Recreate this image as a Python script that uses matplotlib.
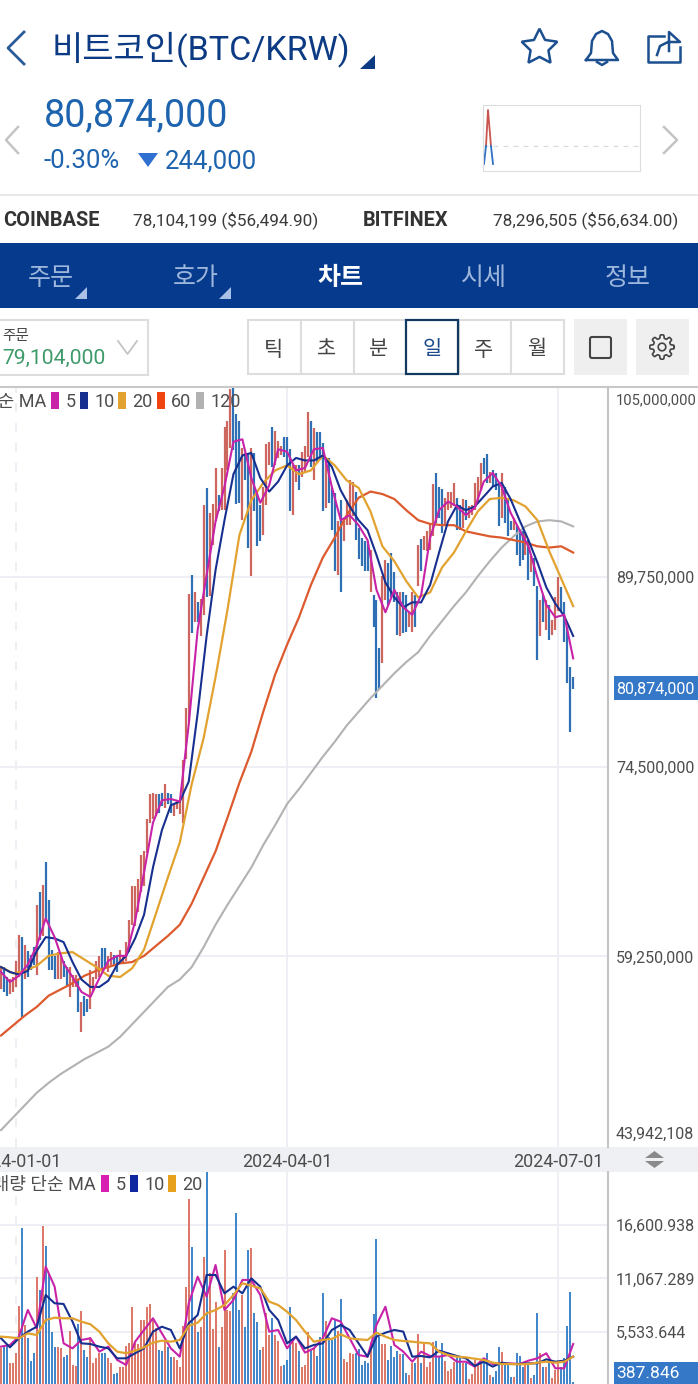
import matplotlib
matplotlib.use("Agg")
import matplotlib.pyplot as plt
import numpy as np
from matplotlib.patches import Rectangle, Polygon, Circle, FancyBboxPatch

plt.rcParams["font.family"] = ["Roboto", "Noto Sans CJK KR", "DejaVu Sans"]

W, H = 698, 1384

# daily bars, million KRW, r = up day, b = down day
highs = [58.4, 58.4, 57.6, 57.4, 57.6, 58.9, 61.0, 60.8, 60.2, 59.7,
         59.4, 60.0, 63.4, 64.4, 65.0, 66.8, 63.8, 59.8, 59.3, 59.6,
         59.3, 58.9, 58.4, 58.4, 57.8, 57.8, 57.4, 55.6, 56.1, 55.8,
         58.2, 57.6, 58.9, 59.3, 59.9, 59.9, 59.3, 59.6, 59.4, 59.3,
         59.8, 59.4, 60.4, 62.2, 64.9, 64.9, 65.5, 67.4, 67.7, 70.3,
         72.3, 72.4, 72.3, 72.3, 72.4, 73.1, 72.4, 72.3, 71.6, 71.7,
         71.7, 75.0, 79.2, 88.4, 89.9, 88.5, 87.7, 88.0, 95.5, 96.9,
         94.9, 95.6, 98.5, 96.3, 98.5, 101.8, 102.3, 104.8, 104.9, 102.8,
         102.3, 100.1, 99.7, 99.7, 100.1, 99.7, 96.5, 95.5, 97.0, 100.4,
         100.6, 101.8, 101.5, 100.7, 100.3, 101.0, 101.0, 100.0, 98.7, 98.7,
         98.7, 99.8, 100.3, 103.0, 102.3, 101.7, 101.4, 101.4, 100.5, 99.4,
         99.3, 96.9, 96.5, 94.2, 95.9, 94.2, 95.9, 97.5, 97.4, 96.6,
         93.7, 92.9, 92.6, 92.6, 91.9, 88.3, 87.9, 84.0, 89.8, 91.1,
         90.9, 91.7, 90.1, 88.5, 88.5, 88.5, 88.3, 86.9, 88.5, 88.3,
         92.3, 92.8, 93.0, 93.4, 94.1, 97.2, 98.1, 97.0, 96.8, 96.1,
         96.6, 96.6, 97.3, 96.1, 95.5, 96.0, 95.9, 95.4, 95.5, 97.3,
         97.8, 98.9, 99.3, 99.6, 98.2, 98.3, 98.1, 97.1, 98.1, 97.0,
         95.9, 94.2, 94.5, 93.8, 93.5, 93.4, 93.3, 92.7, 91.4, 91.3,
         89.0, 87.9, 88.3, 87.9, 87.5, 86.3, 88.1, 89.7, 88.9, 87.7,
         85.7, 82.5, 81.7]
lows = [56.6, 56.4, 56.1, 56.2, 56.4, 56.8, 57.6, 54.4, 57.4, 57.6,
        58.2, 58.6, 57.8, 60.6, 60.9, 62.2, 58.2, 58.2, 57.4, 57.4,
        57.4, 57.6, 56.8, 56.0, 56.8, 56.8, 54.8, 53.2, 54.5, 54.8,
        55.0, 56.4, 57.4, 57.6, 58.2, 58.4, 58.0, 58.6, 58.6, 58.0,
        58.8, 58.8, 58.9, 59.6, 61.8, 61.7, 62.8, 64.4, 64.9, 67.6,
        70.0, 70.3, 70.5, 70.8, 71.3, 71.2, 71.5, 70.8, 70.5, 71.1,
        70.7, 70.0, 75.1, 78.1, 85.2, 86.1, 86.1, 85.0, 86.7, 88.1,
        88.2, 92.3, 94.2, 95.0, 95.1, 95.1, 98.3, 100.1, 99.9, 95.6,
        95.7, 94.3, 97.5, 92.1, 89.8, 95.0, 92.2, 92.6, 93.1, 95.5,
        98.7, 98.6, 98.7, 99.3, 99.5, 99.4, 98.7, 95.0, 94.7, 97.4,
        96.7, 97.8, 98.2, 99.4, 98.6, 97.5, 99.0, 99.1, 95.0, 95.3,
        95.7, 93.5, 90.2, 89.9, 88.5, 92.6, 93.9, 93.9, 94.6, 92.7,
        91.2, 90.6, 90.2, 90.2, 88.5, 85.7, 80.0, 80.7, 82.8, 87.9,
        87.5, 88.1, 87.7, 85.1, 85.0, 85.2, 85.3, 85.7, 85.3, 85.7,
        89.0, 90.2, 91.9, 91.8, 91.9, 93.0, 94.1, 94.5, 93.3, 93.8,
        95.1, 95.3, 95.4, 93.5, 93.5, 93.7, 94.3, 94.5, 94.7, 95.1,
        95.8, 96.7, 98.0, 97.3, 97.3, 97.0, 96.7, 93.8, 94.5, 94.1,
        93.0, 93.5, 93.5, 91.5, 90.6, 91.1, 91.5, 89.5, 90.1, 89.0,
        83.1, 85.0, 86.1, 85.5, 84.7, 85.1, 85.5, 87.0, 86.9, 84.5,
        81.2, 77.3, 80.7]
directions = ("rbbrrrrbrb" "bbrbrbbbbr" "rbbrrrbrbb" "rrrrbbrrbb" "rrrrrrrrrr"
              "rrrbbrbbrr" "rrrrbrbrrb" "rrrbrrrrbb" "brbbrbbbrr" "rbrrrbbbrr"
              "brrrbrbbbr" "bbbrbrrrrb" "bbbbrbbbrr" "bbbbrbbrrb" "rbrrrrbbbr"
              "rrrbbrbrrr" "rrbbrbbbrb" "bbrbbbrbrb" "brbrbrrrbb" "bbb")
volumes = [3840, 4190, 4190, 2360, 2360, 3330, 8260, 16320, 6260, 4880,
           2530, 3330, 11190, 9880, 16490, 14430, 11500, 5570, 3950, 4020,
           3840, 2980, 3150, 5670, 2120, 2020, 6360, 7700, 3670, 2910,
           5050, 2290, 2810, 3330, 3330, 3330, 2810, 2290, 1190, 1330,
           1950, 1950, 4090, 4360, 8080, 4360, 4290, 6740, 6770, 8080,
           8390, 6770, 5910, 3670, 3600, 4710, 4020, 2980, 2980, 2640,
           1950, 6190, 10220, 19250, 14290, 7120, 5570, 6080, 13320, 22110,
           11600, 5810, 8670, 4020, 6020, 14010, 7810, 7740, 9530, 17870,
           7810, 9360, 6080, 14010, 14190, 7460, 6600, 3670, 3950, 7530,
           5220, 6950, 5220, 4600, 2020, 2120, 2640, 8080, 4530, 4360,
           3570, 1880, 2120, 5570, 3670, 3840, 3050, 5050, 9530, 6670,
           5050, 4710, 6770, 5670, 8950, 2710, 2470, 3330, 3260, 3330,
           3740, 2120, 2530, 2290, 4530, 7390, 15120, 5050, 4290, 4290,
           2640, 4090, 2980, 3520, 3260, 3220, 1330, 1090, 2290, 2360,
           5330, 2360, 4530, 1880, 2470, 4530, 4640, 2980, 4430, 2570,
           1500, 1670, 2470, 3150, 3050, 2360, 2290, 670, 1160, 2640,
           2120, 2360, 2290, 3330, 1090, 850, 1500, 3950, 3430, 2360,
           2220, 910, 850, 3330, 3090, 1950, 2470, 2220, 740, 1090,
           7460, 3330, 1950, 1950, 2290, 740, 1600, 2290, 1950, 2810,
           6150, 9700, 400]

# moving averages, every 3rd or 4th day
days_3 = list(range(0, 193, 3))
days_4 = list(range(0, 193, 4))
ma5 = [58.0, 57.2, 57.7, 58.6, 60.1, 62.3, 60.8, 58.7, 57.6, 56.4,
       56.0, 57.5, 58.9, 59.3, 59.3, 62.1, 66.0, 70.0, 71.8, 71.9,
       71.7, 77.9, 85.5, 89.9, 94.2, 97.0, 100.6, 100.8, 97.7, 95.7,
       97.1, 100.0, 99.8, 98.3, 98.5, 100.0, 100.1, 97.0, 94.3, 94.7,
       93.9, 92.7, 88.7, 86.9, 88.7, 87.3, 86.7, 88.3, 92.9, 95.1,
       95.8, 95.4, 94.7, 95.3, 97.4, 98.1, 97.0, 94.9, 93.5, 92.2,
       89.7, 87.5, 86.5, 86.7, 83.2]
ma10 = [58.4, 58.0, 57.8, 58.1, 59.7, 60.8, 60.7, 60.4, 58.8, 57.4,
        56.8, 56.8, 57.3, 58.6, 59.3, 60.7, 62.6, 66.4, 69.4, 71.4,
        71.7, 73.3, 78.8, 85.0, 90.3, 94.3, 98.0, 99.5, 99.7, 97.7,
        96.6, 97.4, 98.7, 99.3, 99.1, 99.1, 99.5, 98.6, 96.7, 95.4,
        94.3, 93.5, 91.5, 89.3, 88.1, 87.3, 87.7, 87.7, 89.1, 91.7,
        94.2, 95.5, 95.1, 95.4, 96.2, 97.0, 97.3, 96.0, 94.3, 92.7,
        90.9, 88.9, 87.6, 86.6, 85.0]
ma20 = [58.4, 57.9, 58.1, 58.5, 59.3, 59.5, 59.6, 59.0, 58.4, 57.7,
        57.6, 58.3, 59.8, 62.7, 65.6, 68.4, 73.1, 76.8, 81.7, 87.1,
        93.1, 95.9, 97.3, 98.3, 98.7, 98.0, 98.3, 99.5, 98.7, 97.5,
        96.9, 95.0, 92.2, 91.0, 89.4, 88.1, 88.5, 90.5, 91.7, 93.4,
        95.0, 96.0, 96.1, 95.9, 95.4, 94.3, 91.8, 89.6, 87.4]
ma60 = [52.9, 53.7, 54.5, 55.2, 56.1, 56.6, 57.1, 57.7, 58.1, 58.4,
        58.7, 58.8, 59.3, 60.1, 60.9, 61.8, 63.5, 65.6, 67.7, 70.4,
        73.2, 75.7, 78.9, 81.9, 84.3, 86.5, 89.1, 91.3, 92.9, 94.7,
        96.1, 96.6, 96.4, 96.0, 95.1, 94.3, 94.0, 93.9, 93.9, 93.4,
        93.2, 93.0, 92.9, 92.7, 92.5, 92.2, 92.1, 92.2, 91.7]
ma120 = [45.3, 46.3, 47.3, 48.3, 49.1, 49.8, 50.4, 51.0, 51.5, 52.0,
         52.8, 53.8, 54.8, 55.8, 56.8, 57.4, 58.4, 60.0, 61.8, 63.4,
         64.9, 66.4, 68.2, 69.8, 71.5, 72.7, 74.0, 75.3, 76.5, 77.8,
         78.9, 80.0, 81.0, 82.0, 82.9, 83.7, 85.0, 86.2, 87.4, 88.5,
         89.8, 91.0, 92.1, 93.0, 93.8, 94.2, 94.3, 94.2, 93.8]
vol_ma5 = [4020, 4190, 5050, 7810, 5910, 12290, 10220, 4360, 3840, 4710,
           4880, 3500, 4020, 2640, 2120, 4530, 5740, 6950, 5390, 3840,
           2980, 8500, 11250, 9190, 12460, 7810, 8840, 10910, 10910, 9360,
           5570, 5740, 3840, 5050, 3400, 3840, 4880, 6950, 6600, 4880,
           3150, 2980, 6260, 8150, 4190, 3500, 2460, 3500, 3050, 2980,
           3150, 2460, 2460, 1950, 2810, 2220, 2290, 2290, 2220, 2570,
           2810, 3330, 1780, 1780, 4290]
vol_ma10 = [4880, 3950, 4880, 5570, 6080, 9360, 8500, 8430, 6600, 4360,
            4290, 4020, 3840, 2810, 2810, 3330, 3840, 5570, 6080, 5740,
            3840, 6430, 7290, 11430, 11430, 9530, 10220, 9530, 11080, 10220,
            7810, 6770, 4360, 5050, 3840, 4190, 4360, 5740, 6260, 5740,
            4360, 2980, 5050, 5460, 5740, 5570, 2980, 3050, 2910, 3600,
            3330, 3050, 2810, 2020, 2460, 1950, 2360, 2220, 2220, 2290,
            2290, 2710, 2460, 2570, 2980]
vol_ma20 = [5050, 4980, 4880, 5390, 5220, 6770, 7010, 6950, 6950, 6600,
            6330, 5570, 4360, 3500, 3330, 3600, 3950, 4430, 4640, 4530,
            4710, 6150, 6500, 7460, 7810, 8320, 9360, 10570, 10320, 10050,
            8670, 8320, 7630, 6770, 5570, 4530, 4710, 4810, 5290, 4880,
            4770, 4710, 5460, 5050, 4710, 4600, 4530, 4430, 4360, 3500,
            3150, 2980, 2910, 2770, 2640, 2360, 2220, 2220, 2190, 2220,
            2360, 2460, 2360, 2460, 2980]

price_ticks = [59.25, 74.5, 89.75]
price_labels = ["59,250,000", "74,500,000", "89,750,000"]
vol_ticks = [5533.644, 11067.289, 16600.938]
vol_labels = ["5,533.644", "11,067.289", "16,600.938"]
date_ticks = [5, 96, 187]
date_labels = ["2024-01-01", "2024-04-01", "2024-07-01"]
last_price = 80.874
# mini chart, change against yesterday's close
spark_up_x, spark_up_y = [3, 5, 8], [0, 36, 0]
spark_down1_x, spark_down1_y = [1, 3], [-18, 0]
spark_down2_x, spark_down2_y = [8, 10], [0, -18]

RED = "#cc665e"
BLUE = "#2f70b4"
VOL_RED = "#dd7666"
VOL_BLUE = "#3d84c8"
MAGENTA = "#c722a8"
NAVY = "#17308f"
GOLD = "#e2a22f"
ORANGE = "#dd5a2e"
GRAY = "#b2b2b2"
GRID = "#eceef3"
TEXT = "#4d4d4d"
DARK_BLUE = "#0c3b84"


def px_axes(left, top, right, bottom, zorder):
    return fig.add_axes([left / W, 1 - bottom / H, (right - left) / W, (bottom - top) / H], zorder=zorder)


def style_chart_axes(ax):
    ax.set_xlim(-1 / 2.98, 607 / 2.98)
    for side in ["left", "top", "bottom"]:
        ax.spines[side].set_visible(False)
    ax.spines["right"].set_color("#c4c4c4")
    ax.spines["right"].set_linewidth(1.5)
    ax.yaxis.tick_right()
    ax.tick_params(length=0, labelcolor=TEXT)
    ax.set_xticks(date_ticks)
    ax.grid(True, color=GRID, linewidth=1.3)
    ax.set_axisbelow(True)
    ax.get_xgridlines()[0].set_linestyle((0, (5, 6)))


fig = plt.figure(figsize=(W / 100, H / 100), dpi=100, facecolor="white")

# background band behind the date labels
bg = px_axes(0, 0, W, H, 0)
bg.set_xlim(0, W)
bg.set_ylim(H, 0)
bg.axis("off")
bg.add_patch(Rectangle((0, 1147), W, 25, color="#eef0f3", lw=0))

# price panel
ax = px_axes(0, 387, 608, 1147, 2)
ax.patch.set_alpha(0)
style_chart_axes(ax)
ax.set_ylim(43.942108, 105)
days = np.arange(len(highs))
bar_colors = [RED if d == "r" else BLUE for d in directions]
ax.vlines(days, lows, highs, colors=bar_colors, linewidth=1.6, zorder=2)
ax.plot(days_4, ma120, color=GRAY, lw=1.5, zorder=3)
ax.plot(days_4, ma60, color=ORANGE, lw=1.6, zorder=3)
ax.plot(days_4, ma20, color=GOLD, lw=1.6, zorder=3)
ax.plot(days_3, ma10, color=NAVY, lw=1.5, zorder=4)
ax.plot(days_3, ma5, color=MAGENTA, lw=1.5, zorder=4)
ax.set_yticks(price_ticks)
ax.set_yticklabels(price_labels, fontsize=11.5)
ax.tick_params(axis="y", pad=5.8)
ax.set_xticklabels(date_labels, fontsize=12.9)
ax.tick_params(axis="x", pad=4.5)
ax.annotate("105,000,000", xy=(1, 105), xycoords=("axes fraction", "data"), xytext=(5.8, -9.4),
            textcoords="offset points", va="center", fontsize=10.6, color=TEXT, annotation_clip=False)
ax.annotate("43,942,108", xy=(1, 43.942108), xycoords=("axes fraction", "data"), xytext=(5.8, 9.4),
            textcoords="offset points", va="center", fontsize=11.5, color=TEXT, annotation_clip=False)

# volume panel
vax = px_axes(0, 1172, 608, 1384, 2)
vax.patch.set_alpha(0)
style_chart_axes(vax)
vax.set_ylim(155, 22076)
vol_colors = [VOL_RED if d == "r" else VOL_BLUE for d in directions]
vax.vlines(days, 0, volumes, colors=vol_colors, linewidth=1.4, zorder=2)
vax.plot(days_3, vol_ma5, color=MAGENTA, lw=1.5, zorder=3)
vax.plot(days_3, vol_ma10, color=NAVY, lw=1.5, zorder=4)
vax.plot(days_3, vol_ma20, color=GOLD, lw=1.6, zorder=5)
vax.set_yticks(vol_ticks)
vax.set_yticklabels(vol_labels, fontsize=11.5)
vax.tick_params(axis="y", pad=5.8)
vax.set_xticklabels([])

# mini chart
spark = px_axes(483, 105, 640, 171, 3)
spark.set_xlim(0, 157)
spark.set_ylim(-25, 41)
spark.set_xticks([])
spark.set_yticks([])
for s in spark.spines.values():
    s.set_color("#dddddd")
    s.set_linewidth(0.8)
spark.axhline(0, color="#dcdcdc", lw=0.9, ls=(0, (4, 4)))
spark.plot(spark_up_x, spark_up_y, color="#c8564e", lw=1.3)
spark.plot(spark_down1_x, spark_down1_y, color="#2f70c4", lw=1.3)
spark.plot(spark_down2_x, spark_down2_y, color="#2f70c4", lw=1.3)

# app chrome, in pixel coordinates
ui = px_axes(0, 0, W, H, 5)
ui.set_xlim(0, W)
ui.set_ylim(H, 0)
ui.axis("off")

ui.plot([24, 8, 24], [32, 48, 64], color="#2a5a98", lw=2.0)
ui.text(52, 49, "비트코인(BTC/KRW)", fontsize=24.5, color=DARK_BLUE, va="center", ha="left")
ui.add_patch(Polygon([[375, 55], [375, 69], [360, 69]], color=DARK_BLUE, lw=0))

# star, bell, share
ui.plot([539], [47], marker=(5, 1), ms=27, mfc="none", mec="#1c4f8f", mew=1.8)
bell_x = [586, 591, 592, 596, 602, 608, 612, 613, 618, 586]
bell_y = [60, 53, 41, 34, 31, 34, 41, 53, 60, 60]
ui.plot(bell_x, bell_y, color="#1c4f8f", lw=1.8)
ui.plot([597, 602, 607], [62, 65, 62], color="#1c4f8f", lw=1.8)
ui.plot([664, 648, 648, 680, 680], [36, 36, 62, 62, 47], color="#1c4f8f", lw=1.8)
ui.plot([657, 660, 668, 680, 669, 669], [55, 46, 42, 42, 32, 51], color="#1c4f8f", lw=1.8)

ui.plot([18, 6, 18], [127, 140, 153], color="#c4c4c4", lw=1.8)
ui.plot([664, 677, 664], [127, 140, 153], color="#c4c4c4", lw=1.8)
ui.text(44, 116, "80,874,000", fontsize=27.2, color="#1d63ae", va="center", ha="left")
ui.text(44, 161, "-0.30%", fontsize=18.5, color="#1d63ae", va="center", ha="left")
ui.add_patch(Polygon([[138, 153], [158, 153], [148, 167]], color="#2f6fd0", lw=0))
ui.text(165, 161, "244,000", fontsize=18.5, color="#1d63ae", va="center", ha="left")

ui.plot([0, W], [195, 195], color="#e8e8e8", lw=1.5)
ui.text(3, 220, "COINBASE", fontsize=14.4, fontweight="bold", color="#333333", va="center")
ui.text(133, 220, "78,104,199 ($56,494.90)", fontsize=12.3, color="#3a3a3a", va="center")
ui.text(363, 220, "BITFINEX", fontsize=14.4, fontweight="bold", color="#333333", va="center")
ui.text(493, 220, "78,296,505 ($56,634.00)", fontsize=12.3, color="#3a3a3a", va="center")

# nav bar
ui.add_patch(Rectangle((0, 243), W, 65, color="#063a8c", lw=0))
for label, x in zip(["주문", "호가", "시세", "정보"], [51, 196, 484, 628]):
    ui.text(x, 278, label, fontsize=18, color="#9db6dc", ha="center", va="center")
ui.text(340, 278, "차트", fontsize=18, fontweight="bold", color="white", ha="center", va="center")
ui.add_patch(Polygon([[87, 287], [87, 299], [75, 299]], color="#a9c1e6", lw=0))
ui.add_patch(Polygon([[231, 287], [231, 299], [219, 299]], color="#a9c1e6", lw=0))

# order box and period buttons
ui.add_patch(Rectangle((-3, 320), 151, 55, fc="white", ec="#dddddd", lw=1.5))
ui.text(2, 336, "주문", fontsize=10.5, color="#444444", va="center")
ui.text(2, 358, "79,104,000", fontsize=15.2, color="#3f9a6a", va="center")
ui.plot([118, 127.5, 137], [341, 354, 341], color="#c4c4c4", lw=1.3)

cell_edges = [248, 301, 354, 406, 459, 511, 564]
cell_labels = ["틱", "초", "분", "일", "주", "월"]
for i, label in enumerate(cell_labels):
    if label == "일":
        continue
    ui.add_patch(Rectangle((cell_edges[i], 320), cell_edges[i + 1] - cell_edges[i], 54, fc="white", ec="#dddddd", lw=1.5))
    ui.text((cell_edges[i] + cell_edges[i + 1]) / 2 - 1, 350, label, fontsize=15, color="#444444", ha="center", va="center")
ui.add_patch(Rectangle((406, 320), 52, 54, fc="white", ec="#12395f", lw=1.6, zorder=3))
ui.text(432, 350, "일", fontsize=15, color="#1a4a8a", ha="center", va="center", zorder=4)

ui.add_patch(Rectangle((574, 319), 53, 56, color="#efefef", lw=0))
ui.add_patch(Rectangle((636, 319), 53, 56, color="#efefef", lw=0))
ui.add_patch(FancyBboxPatch((590, 337), 21, 21, boxstyle="round,pad=0,rounding_size=2", fc="none", ec="#444444", lw=1.5))
theta = np.linspace(0, 2 * np.pi, 200)
gear_r = 10.5 + 1.7 * np.tanh(3 * np.cos(8 * theta))
ui.plot(662 + gear_r * np.cos(theta), 347 + gear_r * np.sin(theta), color="#444444", lw=1.2)
ui.add_patch(Circle((662, 347), 3.8, fc="none", ec="#444444", lw=1.2))

# legends
ui.plot([0, 698], [387, 387], color="#c8c8c8", lw=1.5, zorder=1)
ui.text(46, 402, "단순 MA", fontsize=13, color=TEXT, ha="right", va="center")
for sx, color, tx, label in [(51, MAGENTA, 66, "5"), (80, NAVY, 94, "10"), (118, GOLD, 132, "20"),
                             (157, "#f0440f", 171, "60"), (196, GRAY, 210, "120")]:
    ui.add_patch(Rectangle((sx, 392), 8, 17, color=color, lw=0))
    ui.text(tx, 402, label, fontsize=13, color=TEXT, va="center")
ui.text(96, 1185, "거래량 단순 MA", fontsize=13, color=TEXT, ha="right", va="center")
for sx, color, tx, label in [(101, "#d61fb0", 116, "5"), (130, "#10279f", 144, "10"), (168, "#e8a11d", 182, "20")]:
    ui.add_patch(Rectangle((sx, 1175), 8, 17, color=color, lw=0))
    ui.text(tx, 1185, label, fontsize=13, color=TEXT, va="center")

# up/down handle on the date band
ui.add_patch(Polygon([[645, 1158], [664, 1158], [654.5, 1151]], color="#8a8a8a", lw=0))
ui.add_patch(Polygon([[645, 1161], [664, 1161], [654.5, 1168]], color="#8a8a8a", lw=0))

# last value badges
ui.add_patch(Rectangle((614, 676), 84, 24, color="#3578c8", lw=0))
ui.text(616, 689, f"{last_price * 1e6:,.0f}", fontsize=11.5, color="white", va="center")
ui.add_patch(Rectangle((614, 1362), 84, 22, color="#3578c8", lw=0))
ui.text(616, 1374, "387.846", fontsize=12.5, color="white", va="center")

fig.savefig("out.png", dpi=100)
plt.close(fig)
